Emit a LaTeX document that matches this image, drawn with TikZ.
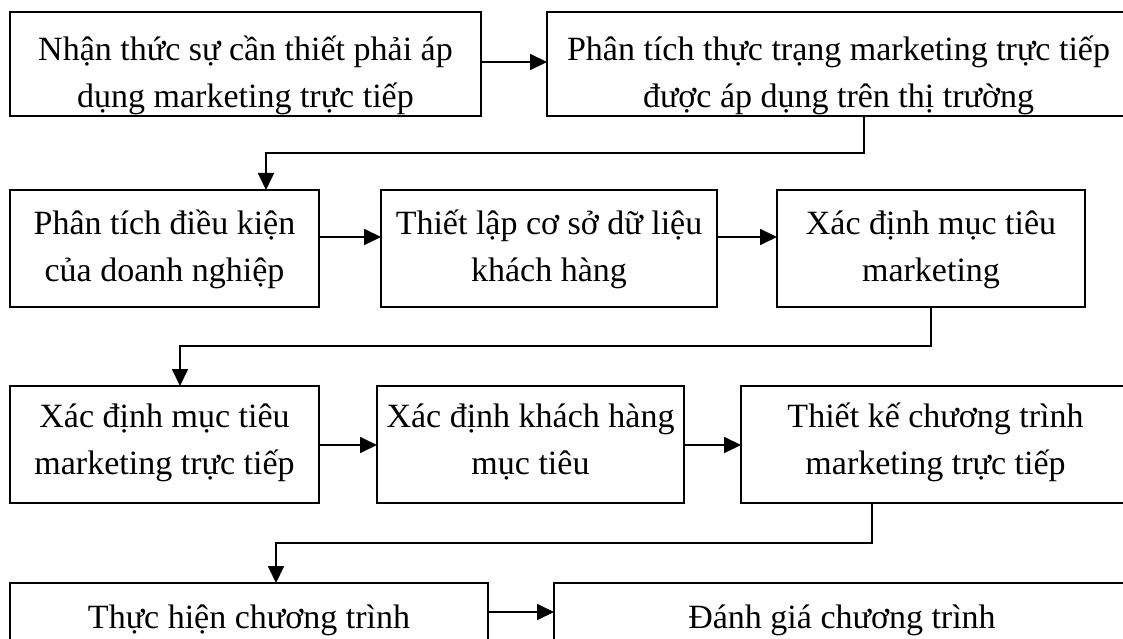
\documentclass[tikz,border=0pt]{standalone}
\usepackage{fontspec}
\setmainfont{Liberation Serif}
\usetikzlibrary{arrows.meta}
% invisible struts that fix the height of a first line and the depth of a last line
\newcommand\lnup[1]{\rule{0pt}{#1}}
\newcommand\lndown[1]{\rule[-#1]{0pt}{#1}}
\begin{document}
\begin{tikzpicture}[x=1pt,y=-1pt,
  stepbox/.style={draw, line width=1.8pt, inner sep=0pt, outer sep=0pt,
    align=center, anchor=north west, font=\fontsize{34}{47}\selectfont},
  flow/.style={line width=1.8pt, -{Triangle[length=17pt,width=16pt]}},
]
\useasboundingbox (0,0) rectangle (1123,639);

% row 1
\node[stepbox, minimum width=471pt, minimum height=104pt] (A) at (10,12)
  {\lnup{49pt}Nhận thức sự cần thiết phải áp\\dụng marketing trực tiếp\lndown{8pt}};
\node[stepbox, minimum width=583pt, minimum height=104pt] (B) at (547,12)
  {\lnup{49pt}Phân tích thực trạng marketing trực tiếp\\được áp dụng trên thị trường\lndown{8pt}};

% row 2
\node[stepbox, minimum width=309pt, minimum height=117pt] (C) at (10,190)
  {\lnup{38pt}Phân tích điều kiện\\của doanh nghiệp\lndown{20pt}};
\node[stepbox, minimum width=336pt, minimum height=117pt] (D) at (381,190)
  {\lnup{38pt}Thiết lập cơ sở dữ liệu\\khách hàng\lndown{20pt}};
\node[stepbox, minimum width=308pt, minimum height=117pt] (E) at (777,190)
  {\lnup{38pt}Xác định mục tiêu\\marketing\lndown{20pt}};

% row 3
\node[stepbox, minimum width=309pt, minimum height=117pt] (F) at (10,386)
  {\lnup{36pt}Xác định mục tiêu\\marketing trực tiếp\lndown{24pt}};
\node[stepbox, minimum width=307pt, minimum height=117pt] (G) at (377,386)
  {\lnup{36pt}Xác định khách hàng\\mục tiêu\lndown{24pt}};
\node[stepbox, minimum width=389pt, minimum height=117pt] (H) at (741,386)
  {\lnup{36pt}Thiết kế chương trình\\marketing trực tiếp\lndown{24pt}};

% row 4
\node[stepbox, minimum width=478pt, minimum height=117pt] (I) at (10,583)
  {\lnup{36pt}Thực hiện chương trình\lndown{63pt}};
\node[stepbox, minimum width=576pt, minimum height=117pt] (J) at (554,583)
  {\lnup{36pt}Đánh giá chương trình\lndown{63pt}};

% arrows within a row
\draw[flow] (A.east |- 0,62) -- (B.west |- 0,62);
\draw[flow] (C.east |- 0,237) -- (D.west |- 0,237);
\draw[flow] (D.east |- 0,237) -- (E.west |- 0,237);
\draw[flow] (F.east |- 0,445) -- (G.west |- 0,445);
\draw[flow] (G.east |- 0,445) -- (H.west |- 0,445);
\draw[flow] (I.east |- 0,612) -- (J.west |- 0,612);

% bends of the connectors between rows
\coordinate (k1) at (864,153);
\coordinate (k2) at (266,153);
\coordinate (k3) at (931,346);
\coordinate (k4) at (180,346);
\coordinate (k5) at (872,543);
\coordinate (k6) at (276,543);

\draw[flow] (k1 |- B.south) -- (k1) -- (k2) -- (k2 |- C.north);
\draw[flow] (k3 |- E.south) -- (k3) -- (k4) -- (k4 |- F.north);
\draw[flow] (k5 |- H.south) -- (k5) -- (k6) -- (k6 |- I.north);
\end{tikzpicture}
\end{document}
